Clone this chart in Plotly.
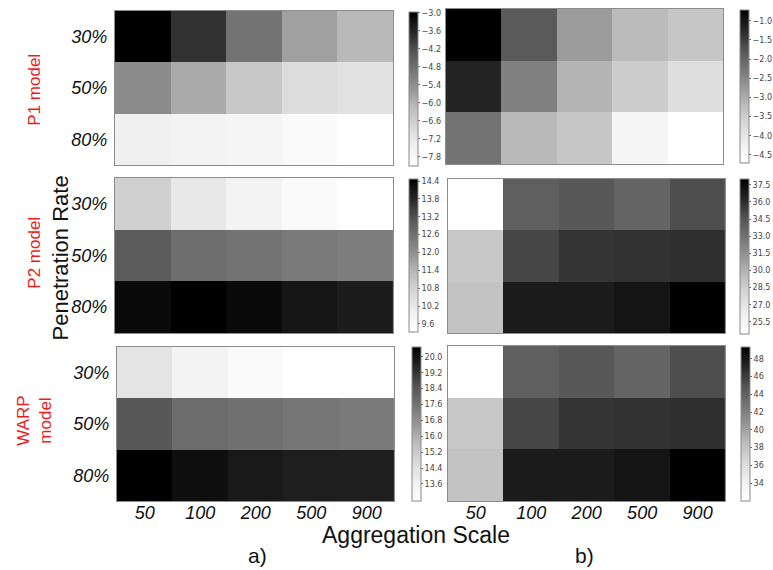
import plotly.graph_objects as go

# Axis categories
scales = ["50", "100", "200", "500", "900"]
rates = ["30%", "50%", "80%"]
models = ["P1 model", "P2 model", "WARP<br>model"]

# Cell values per model: (a) and (b) columns, rows = penetration rate
p1_a = [[-2.97, -3.80, -4.89, -5.70, -6.11],
        [-5.35, -5.86, -6.43, -6.90, -7.04],
        [-7.46, -7.59, -7.67, -7.89, -8.10]]
p1_b = [[-0.72, -1.84, -2.78, -3.19, -3.37],
        [-1.19, -2.40, -3.10, -3.50, -3.82],
        [-2.22, -3.16, -3.37, -4.38, -4.71]]
p2_a = [[10.82, 10.19, 9.84, 9.55, 9.33],
        [12.99, 12.64, 12.54, 12.41, 12.36],
        [14.30, 14.47, 14.30, 14.09, 13.98]]
p2_b = [[24.45, 33.95, 34.30, 33.69, 34.76],
        [28.87, 35.06, 35.74, 35.82, 35.93],
        [29.17, 36.77, 36.77, 37.08, 38.00]]
warp_a = [[14.21, 13.52, 13.07, 12.76, 12.74],
          [18.38, 17.79, 17.68, 17.50, 17.40],
          [20.50, 20.10, 19.85, 19.72, 19.72]]
warp_b = [[31.97, 44.15, 44.60, 43.82, 45.20],
          [37.64, 45.58, 46.45, 46.55, 46.69],
          [38.02, 47.77, 47.77, 48.17, 49.35]]

# Colorbar tick start, step, count, format for each panel
cb_ticks = [(-7.8, 0.6, 9, ".1f"), (-4.5, 0.5, 8, ".1f"),
            (9.6, 0.6, 9, ".1f"), (25.5, 1.5, 9, ".1f"),
            (13.6, 0.8, 9, ".1f"), (34, 2, 8, "d")]

panels = [p1_a, p1_b, p2_a, p2_b, warp_a, warp_b]

W, H = 773, 570
# pixel boxes: (x0, x1, y0, y1) for heatmap and (x, y0, y1) for colorbar
boxes = [(116, 397, 11, 165), (450, 730, 9, 164),
         (116, 397, 178, 333), (452, 732, 179, 333),
         (118, 398, 347, 501), (452, 732, 346, 501)]
cbars = [(413, 12, 166), (747, 10, 163),
         (413, 179, 332), (747, 179, 334),
         (416, 347, 501), (748, 347, 501)]

greys = [[0, "#ffffff"], [0.125, "#f0f0f0"], [0.25, "#d9d9d9"],
         [0.375, "#bdbdbd"], [0.5, "#969696"], [0.625, "#737373"],
         [0.75, "#525252"], [0.875, "#252525"], [1, "#000000"]]

fig = go.Figure()
layout = {}
for i, z in enumerate(panels):
    k = i + 1
    x0, x1, y0, y1 = boxes[i]
    cx, cy0, cy1 = cbars[i]
    t0, dt, n, fmt = cb_ticks[i]
    tv = [round(t0 + j * dt, 3) for j in range(n)]
    fig.add_trace(go.Heatmap(
        z=z, x=scales, y=rates, colorscale=greys,
        xaxis=f"x{k}", yaxis=f"y{k}", xgap=0, ygap=0,
        colorbar=dict(
            x=cx / W, xanchor="left", xpad=0, ypad=0,
            y=1 - (cy0 + cy1) / 2 / H, yanchor="middle",
            len=(cy1 - cy0) / H, lenmode="fraction", thickness=9,
            outlinecolor="#8a8a8a", outlinewidth=1,
            ticks="outside", ticklen=2, tickcolor="#666",
            tickvals=tv, tickformat=fmt,
            tickfont=dict(family="DejaVu Sans", size=8, color="#444"),
        ),
    ))
    row, col = i // 2, i % 2
    layout[f"xaxis{k}"] = dict(
        domain=[x0 / W, x1 / W], anchor=f"y{k}",
        showticklabels=(row == 2), ticks="", ticklabelstandoff=-5,
        tickfont=dict(family="Liberation Sans", size=18, color="#111", style="italic"),
        showline=True, mirror=True, linecolor="#8c8c8c", linewidth=1,
        showgrid=False, zeroline=False, fixedrange=True,
    )
    layout[f"yaxis{k}"] = dict(
        domain=[1 - y1 / H, 1 - y0 / H], anchor=f"x{k}",
        autorange="reversed",
        showticklabels=(col == 0), ticks="outside" if col == 0 else "",
        ticklen=3, tickcolor="rgba(0,0,0,0)",
        tickfont=dict(family="Liberation Sans", size=18, color="#111", style="italic"),
        showline=True, mirror=True, linecolor="#8c8c8c", linewidth=1,
        showgrid=False, zeroline=False, fixedrange=True,
    )

annotations = []
# model labels on the far left
model_y = [90, 253, 421]
for name, yy in zip(models, model_y):
    annotations.append(dict(
        text=name, x=34 / W, y=1 - yy / H, xref="paper", yref="paper",
        textangle=-90, showarrow=False, xanchor="center", yanchor="middle",
        font=dict(family="Liberation Sans", size=17, color="#ee1c1c"),
    ))
annotations += [
    dict(text="Penetration Rate", x=61 / W, y=1 - 258 / H, textangle=-90,
         font=dict(family="Liberation Sans", size=22, color="#111")),
    dict(text="Aggregation Scale", x=420 / W, y=1 - 535 / H,
         font=dict(family="Liberation Sans", size=23, color="#111")),
    dict(text="a)", x=260 / W, y=1 - 555 / H,
         font=dict(family="Liberation Sans", size=21, color="#111")),
    dict(text="b)", x=590 / W, y=1 - 555 / H,
         font=dict(family="Liberation Sans", size=21, color="#111")),
]
for a in annotations[3:]:
    a.update(xref="paper", yref="paper", showarrow=False,
             xanchor="center", yanchor="middle")

fig.update_layout(
    width=W, height=H, margin=dict(l=0, r=0, t=0, b=0),
    paper_bgcolor="white", plot_bgcolor="white",
    annotations=annotations, **layout,
)
fig.write_html("out.html")
